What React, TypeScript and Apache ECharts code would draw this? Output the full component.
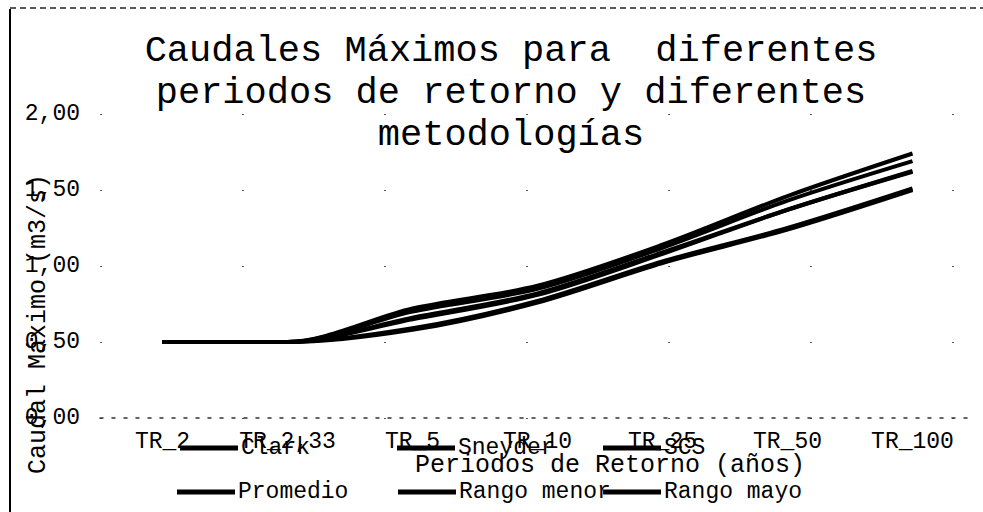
import React, { useEffect, useRef } from "react";
import * as echarts from "echarts";

const categories = ["TR_2", "TR_2,33", "TR_5", "TR_10", "TR_25", "TR_50", "TR_100"];
const clark = [0.5, 0.5, 0.66, 0.82, 1.09, 1.37, 1.625];
const sneyder = [0.5, 0.5, 0.59, 0.77, 1.03, 1.25, 1.51];
const scs = [0.5, 0.5, 0.7, 0.85, 1.12, 1.43, 1.69];
const promedio = [0.5, 0.5, 0.65, 0.81, 1.08, 1.37, 1.62];
const rangoMenor = [0.5, 0.5, 0.58, 0.76, 1.02, 1.24, 1.5];
const rangoMayo = [0.5, 0.5, 0.72, 0.87, 1.14, 1.46, 1.74];

const seriesNames = ["Clark", "Sneyder", "SCS", "Promedio", "Rango menor", "Rango mayo"];
const seriesValues = [clark, sneyder, scs, promedio, rangoMenor, rangoMayo];

const titleLines = ["Caudales Máximos para  diferentes", "periodos de retorno y diferentes", "metodologías"];
const xAxisTitle = "Periodos de Retorno (años)";
const yAxisTitle = "Caudal Máximo (m3/s)";

const FONT = "'Liberation Mono', 'DejaVu Sans Mono', monospace";

export default function App() {
  const ref = useRef<HTMLDivElement>(null);
  useEffect(() => {
    if (!ref.current) return;
    const chart = echarts.init(ref.current, null, { renderer: "svg" });
    const legendPos = [
      { left: 175, top: 431 },
      { left: 392, top: 431 },
      { left: 598, top: 431 },
      { left: 172, top: 475 },
      { left: 393, top: 475 },
      { left: 598, top: 475 },
    ];
    chart.setOption({
      animation: false,
      backgroundColor: "#ffffff",
      title: {
        text: titleLines.join("\n"),
        left: 506,
        top: 25,
        textAlign: "center",
        textStyle: {
          fontFamily: FONT,
          fontSize: 37,
          lineHeight: 42,
          fontWeight: "normal",
          color: "#000",
        },
      },
      legend: seriesNames.map((n, i) => ({
        data: [n],
        left: legendPos[i].left,
        top: legendPos[i].top,
        icon: "rect",
        itemWidth: 58,
        itemHeight: 5,
        itemGap: 0,
        textStyle: { fontFamily: FONT, fontSize: 23, lineHeight: 24, color: "#000", padding: [0, 0, 0, -2] },
      })),
      grid: { left: 100, right: 8, top: 114, bottom: 94, containLabel: false },
      xAxis: {
        type: "category",
        data: categories,
        boundaryGap: true,
        axisLine: { show: true, lineStyle: { color: "#333", width: 1.5, type: [3, 9] } },
        axisTick: { show: false },
        axisLabel: { interval: 0, fontFamily: FONT, fontSize: 23, color: "#000", margin: 12 },
      },
      yAxis: {
        type: "value",
        min: 0,
        max: 2,
        interval: 0.5,
        axisLine: { show: false },
        axisTick: { show: false },
        splitLine: { show: true, lineStyle: { color: "#555", width: 1, type: [2, 140] } },
        axisLabel: {
          fontFamily: FONT,
          fontSize: 23,
          color: "#000",
          margin: 20,
          formatter: (v: number) => v.toFixed(2).replace(".", ","),
        },
      },
      graphic: [
        {
          type: "line",
          shape: { x1: 10, y1: 9, x2: 10, y2: 512 },
          style: { stroke: "#000", lineWidth: 2 },
        },
        {
          type: "line",
          shape: { x1: 10, y1: 8, x2: 983, y2: 8 },
          style: { stroke: "#222", lineWidth: 1.5, lineDash: [6, 4] },
        },
        {
          type: "text",
          x: 38,
          y: 324,
          rotation: Math.PI / 2,
          style: {
            text: yAxisTitle,
            fontFamily: FONT,
            fontSize: 25,
            fill: "#000",
            align: "center",
            verticalAlign: "middle",
          },
        },
        {
          type: "text",
          x: 610,
          y: 465,
          style: {
            text: xAxisTitle,
            fontFamily: FONT,
            fontSize: 25,
            fill: "#000",
            align: "center",
            verticalAlign: "middle",
          },
        },
      ],
      series: seriesNames.map((n, i) => ({
        name: n,
        type: "line",
        data: seriesValues[i],
        smooth: 0.3,
        showSymbol: false,
        symbol: "none",
        lineStyle: { color: "#000", width: 4 },
        itemStyle: { color: "#000" },
      })),
    });
    return () => chart.dispose();
  }, []);
  return (
    <div
      ref={ref}
      style={{ position: "fixed", left: 0, top: 0, width: 983, height: 512, background: "#fff" }}
    />
  );
}
